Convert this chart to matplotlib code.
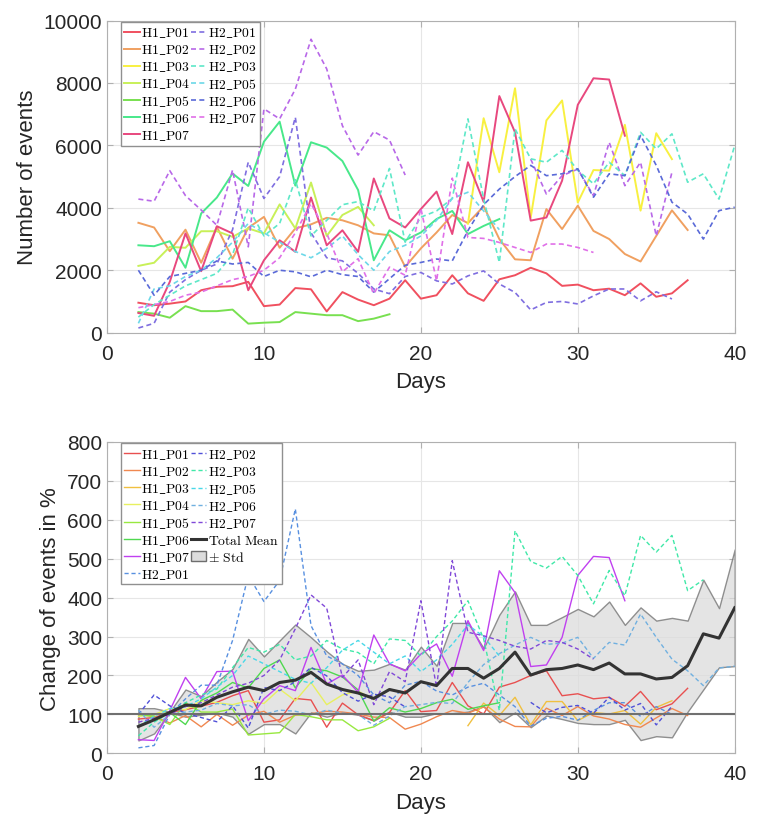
import numpy as np
import matplotlib.pyplot as plt
from matplotlib.patches import Patch

plt.rcParams['font.family'] = ['Liberation Sans', 'DejaVu Sans']
plt.rcParams['mathtext.fontset'] = 'cm'

nan = np.nan
days = np.arange(2, 41)

# ---- top panel: number of events ----
ev_h1_p01 = [960, 880, 930, 1000, 1360, 1470, 1490, 1630, 850, 900, 1430, 1390, 680, 1300, 1060, 880, 1090, 1680,
             1090, 1200, 1840, 1260, 1020, 1710, 1840, 2080, 1900, 1500, 1540, 1360, 1410, 1200, 1580, 1150, 1260, 1680]
ev_h1_p02 = [3520, 3370, 2610, 3300, 2240, 3390, 2370, 3360, 3710, 2720, 3340, 3470, 3680, 3600, 3440, 3180, 3120, 2110,
             2700, 3210, 3770, 3510, 4050, 3000, 2350, 2320, 3960, 3320, 4070, 3260, 3000, 2520, 2280, 3100, 3920, 3290]
ev_h1_p03 = [3490, 6870, 5140, 7830, 3690, 6800, 7440, 4170, 5210, 5190, 6660, 3910, 6390, 5560]  # from day 23
ev_h1_p04 = [2140, 2240, 2750, 2720, 3250, 3250, 3070, 3340, 3180, 4110, 3340, 4810, 3100, 3770, 4030, 3440]
ev_h1_p05 = [660, 610, 480, 850, 690, 690, 740, 290, 320, 340, 660, 610, 560, 560, 370, 450, 590]
ev_h1_p06 = [2800, 2770, 2930, 2080, 3820, 4330, 5100, 4700, 6120, 6760, 4710, 6100, 5930, 5500, 4570, 2320, 3280,
             2960, 3210, 3640, 3900, 3160, 3420, 3640]
ev_h1_p07 = [630, 540, 1630, 3180, 1970, 3410, 3180, 1360, 2320, 2960, 2590, 4330, 2800, 3280, 2590, 4940, 3660, 3370,
             3960, 4520, 3160, 5460, 4190, 7580, 6420, 3590, 3690, 4870, 7300, 8150, 8110, 6310]
ev_h2_p01 = [150, 300, 1300, 1700, 2000, 2200, 3300, 5460, 4300, 5000, 6900, 3200, 2400, 2300, 1900, 1400, 1250, 1800,
             1930, 1660, 1560, 1820, 1980, 1560, 1290, 730, 970, 1000, 920, 1180, 1400, 1400, 1020, 1310, 1080]
ev_h2_p02 = [4280, 4210, 5190, 4390, 3930, 3440, 5210, 2750, 7170, 6850, 7800, 9400, 8450, 6630, 5690, 6440, 6170, 5050,
             nan, nan, nan, nan, nan, nan, nan, 5560, 4440, 5030, 5240, 4390, 6100, 4710, 5460, 3100, 5140]
ev_h2_p03 = [500, 900, 1200, 1500, 1700, 1900, 2500, 4000, 3100, 3500, 4900, 3100, 3600, 4100, 4200, 3900, 5260, 2900,
             3700, 3900, 4300, 6850, 4290, 2250, 6530, 5570, 5460, 5840, 5200, 4770, 5460, 5030, 6420, 5890, 6370,
             4820, 5090, 4280, 6000]
ev_h2_p05 = [300, 1400, 1500, 1800, 2000, 2400, 2900, 3500, 3200, 2900, 2600, 2400, 2700, 3100, 2500, 2000, 2600, 2800,
             3100, 3600, 4300, 4500, 3900, 3300]
ev_h2_p06 = [2000, 1200, 1800, 1900, 2000, 2300, 2200, 2250, 1800, 2000, 1950, 1790, 2000, 1860, 1800, 1300, 1730, 2160,
             2250, 2360, 2300, 3270, 4100, 4600, 5000, 5360, 5030, 5090, 5250, 4340, 5090, 5030, 6320, 5360, 4180,
             3800, 3000, 3910, 4020]
ev_h2_p07 = [800, 900, 1000, 1200, 1300, 1500, 1700, 1800, 2000, 2400, 3200, 4140, 3180, 1950, 2370, 1250, 2100, 1840,
             3980, 1660, 4950, 3050, 3020, 2890, 2730, 2570, 2840, 2840, 2730, 2570]

# ---- bottom panel: change in % ----
pc_h1_p01 = [88, 92, 105, 112, 121, 131, 148, 161, 80, 86, 141, 137, 67, 129, 99, 84, 105, 161, 107, 110, 182, 122,
             101, 170, 182, 200, 212, 148, 153, 140, 144, 121, 159, 112, 127, 167]
pc_h1_p02 = [100, 95, 78, 97, 68, 100, 72, 98, 108, 80, 98, 102, 108, 106, 101, 93, 92, 62, 75, 94, 110, 103, 119, 88,
             69, 68, 116, 97, 120, 96, 88, 74, 67, 91, 115, 97]
pc_h1_p03 = [71, 129, 97, 144, 73, 133, 133, 84, 105, 101, 110, 75, 118, 135]  # from day 23
pc_h1_p04 = [95, 100, 115, 112, 135, 130, 125, 135, 128, 165, 135, 182, 125, 150, 160, 138]
pc_h1_p05 = [100, 94, 74, 130, 106, 106, 114, 47, 50, 53, 100, 94, 86, 86, 58, 68, 90]
pc_h1_p06 = [100, 99, 105, 74, 136, 155, 182, 168, 218, 240, 168, 218, 212, 196, 163, 83, 117, 106, 115, 130, 139,
             113, 122, 130]
pc_h1_p07 = [35, 33, 110, 195, 140, 210, 211, 84, 140, 174, 161, 272, 178, 201, 157, 304, 230, 212, 255, 281, 198,
             341, 264, 469, 413, 223, 227, 298, 457, 506, 503, 392]
pc_h2_p01 = [14, 20, 100, 140, 175, 175, 290, 457, 390, 444, 628, 328, 250, 230, 200, 150, 130, 175, 185, 160, 150,
             170, 180, 150, 120, 70, 90, 95, 85, 110, 130, 130, 95, 120, 100]
pc_h2_p02 = [100, 150, 122, 103, 92, 81, 122, 65, 169, 161, 184, 221, 199, 156, 134, 152, 145, 119,
             nan, nan, nan, nan, nan, nan, nan, 131, 104, 118, 123, 103, 144, 111, 128, 73, 121]
pc_h2_p03 = [45, 80, 105, 130, 150, 165, 220, 272, 260, 280, 240, 250, 290, 268, 259, 230, 294, 290, 250, 300, 340,
             392, 294, 110, 572, 493, 476, 506, 457, 384, 470, 405, 560, 517, 560, 418, 446]
pc_h2_p05 = [70, 95, 115, 120, 140, 170, 200, 250, 230, 210, 190, 180, 220, 265, 290, 260, 230, 250, 210, 240, 280,
             330, 300, 250]
pc_h2_p06 = [111, 67, 100, 106, 111, 128, 122, 125, 100, 111, 108, 99, 111, 103, 100, 72, 96, 120, 125, 131, 128, 182,
             228, 256, 278, 298, 280, 283, 298, 244, 285, 278, 358, 298, 242, 212, 174, 219, 224]
pc_h2_p07 = [80, 90, 100, 120, 130, 150, 170, 180, 200, 240, 320, 407, 373, 195, 240, 125, 210, 184, 392, 170, 495,
             311, 302, 290, 275, 268, 290, 285, 268, 242]
pc_mean = [69, 86, 105, 124, 122, 144, 158, 170, 161, 182, 188, 208, 178, 164, 155, 141, 164, 155, 184, 174, 218, 218,
           193, 218, 260, 201, 215, 218, 227, 215, 232, 204, 204, 191, 195, 225, 307, 296, 374]
pc_upper = [116, 116, 107, 164, 147, 184, 217, 294, 249, 290, 331, 298, 262, 230, 212, 215, 230, 215, 274, 225, 335,
            335, 270, 356, 416, 330, 330, 350, 371, 352, 390, 330, 375, 341, 348, 341, 446, 373, 524]
pc_lower = [33, 51, 105, 94, 99, 105, 94, 50, 75, 75, 51, 105, 94, 105, 99, 84, 107, 94, 94, 103, 103, 107, 121, 80,
            105, 67, 97, 88, 78, 75, 75, 86, 34, 44, 41, 107, 164, 221, 224]

names_h1 = ['H1_P01', 'H1_P02', 'H1_P03', 'H1_P04', 'H1_P05', 'H1_P06', 'H1_P07']
names_h2 = ['H2_P01', 'H2_P02', 'H2_P03', 'H2_P05', 'H2_P06', 'H2_P07']
start_h1 = [2, 2, 23, 2, 2, 2, 2]
start_h2 = [2, 2, 2, 2, 2, 2]

top_h1 = [ev_h1_p01, ev_h1_p02, ev_h1_p03, ev_h1_p04, ev_h1_p05, ev_h1_p06, ev_h1_p07]
top_h2 = [ev_h2_p01, ev_h2_p02, ev_h2_p03, ev_h2_p05, ev_h2_p06, ev_h2_p07]
bot_h1 = [pc_h1_p01, pc_h1_p02, pc_h1_p03, pc_h1_p04, pc_h1_p05, pc_h1_p06, pc_h1_p07]
bot_h2 = [pc_h2_p01, pc_h2_p02, pc_h2_p03, pc_h2_p05, pc_h2_p06, pc_h2_p07]

top_c1 = ['#f0505f', '#f0a060', '#f8f040', '#c8f058', '#78e050', '#48e88a', '#e8487e']
top_c2 = ['#7f6ee0', '#b868e8', '#5ee8c8', '#6cd8e8', '#5a6ad8', '#e070e8']
bot_c1 = ['#e85050', '#f08850', '#f0c040', '#e8f060', '#98e840', '#50d850', '#c040f0']
bot_c2 = ['#5890e0', '#5050d8', '#40e8a8', '#48d8e8', '#70b0e0', '#8048d8']

dash = (0, (3, 2))
leg_kw = dict(ncol=2, loc='upper left', bbox_to_anchor=(0.02, 1.0), borderaxespad=0.1, fontsize=9.8,
              handlelength=1.15, handletextpad=0.1, columnspacing=0.05, labelspacing=0.22, borderpad=0.25,
              fancybox=False, edgecolor='#909090', framealpha=1)


def tex(s):
    return r'$\mathrm{' + s.replace('_', r'\_') + '}$'


def style_axes(ax):
    ax.set_xlim(0, 40)
    ax.set_xticks([0, 10, 20, 30, 40])
    ax.grid(True, color='#e6e6e6', lw=0.8)
    ax.set_axisbelow(True)
    for s in ax.spines.values():
        s.set_color('#b0b0b0')
    ax.tick_params(direction='in', length=4, color='#b0b0b0', labelsize=15, labelcolor='#262626',
                   top=True, right=True)
    ax.tick_params(axis='x', pad=8)
    ax.set_xlabel('Days', fontsize=16, color='#262626', labelpad=6)


fig = plt.figure(figsize=(7.59, 8.28), dpi=100)
ax1 = fig.add_axes([0.141, 0.597, 0.827, 0.377])
ax2 = fig.add_axes([0.141, 0.089, 0.827, 0.376])

# top panel
for name, vals, st, c in zip(names_h1, top_h1, start_h1, top_c1):
    ax1.plot(np.arange(st, st + len(vals)), vals, color=c, lw=1.4, label=tex(name))
for name, vals, st, c in zip(names_h2, top_h2, start_h2, top_c2):
    ax1.plot(np.arange(st, st + len(vals)), vals, color=c, lw=1.2, ls=dash, label=tex(name))
ax1.set_ylim(0, 10000)
ax1.set_yticks(np.arange(0, 10001, 2000))
style_axes(ax1)
ax1.set_ylabel('Number of events', fontsize=16, color='#262626')
ax1.legend(**leg_kw)

# bottom panel
ax2.fill_between(days, pc_lower, pc_upper, facecolor='#dcdcdc', edgecolor='#6e6e6e', lw=1.0, alpha=0.75, zorder=1)
handles = []
for name, vals, st, c in zip(names_h1, bot_h1, start_h1, bot_c1):
    ln, = ax2.plot(np.arange(st, st + len(vals)), vals, color=c, lw=1.0, label=tex(name), zorder=2)
    handles.append(ln)
for name, vals, st, c in zip(names_h2, bot_h2, start_h2, bot_c2):
    ln, = ax2.plot(np.arange(st, st + len(vals)), vals, color=c, lw=1.0, ls=dash, label=tex(name), zorder=2)
    handles.append(ln)
ax2.axhline(100, color='#707070', lw=1.5, zorder=3)
mline, = ax2.plot(days, pc_mean, color='#333333', lw=2.2, zorder=4, label=r'$\mathrm{Total\ Mean}$')
handles.append(mline)
handles.append(Patch(facecolor='#dcdcdc', edgecolor='#6e6e6e', label=r'$\pm\ \mathrm{Std}$'))
ax2.set_ylim(0, 800)
ax2.set_yticks(np.arange(0, 801, 100))
style_axes(ax2)
ax2.set_ylabel('Change of events in %', fontsize=16, color='#262626')
ax2.legend(handles=handles, **leg_kw)

fig.savefig('out.png', dpi=100, facecolor='white')
